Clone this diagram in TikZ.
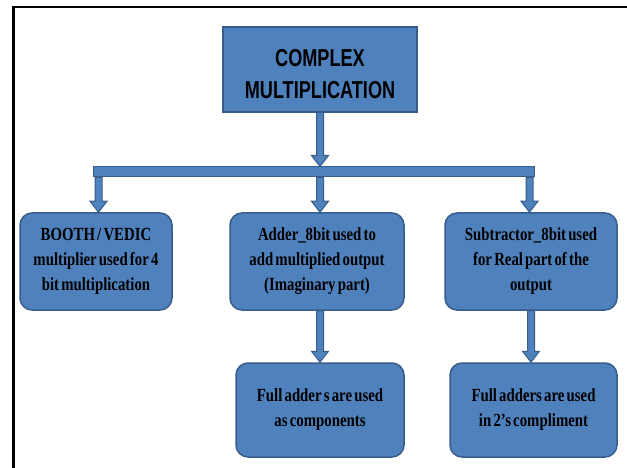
\documentclass[tikz,border=0pt]{standalone}
\usepackage{fontspec}
\newfontfamily\hdfont[FakeStretch=0.74]{Liberation Sans}
\newfontfamily\bxfont[FakeStretch=0.8,WordSpace=0.6]{Liberation Serif}
\usetikzlibrary{calc}
\definecolor{boxblue}{HTML}{4F81BD}
\definecolor{edgeblue}{HTML}{385D8A}
\tikzset{
  topbox/.style={draw=edgeblue, fill=boxblue, line width=1.5pt, minimum width=194pt, minimum height=85pt, align=center, inner sep=0pt, font=\hdfont\bfseries\fontsize{24.5}{32}\selectfont},
  roundbox/.style={draw=edgeblue, fill=boxblue, line width=1.5pt, rounded corners=12pt, align=center, inner sep=0pt, font=\bxfont\bfseries\fontsize{18.5}{25}\selectfont},
  barbox/.style={draw=edgeblue, fill=boxblue, line width=1pt, inner sep=0pt},
  blockarr/.style={draw=edgeblue, fill=boxblue, line width=1pt, line join=miter},
  frameline/.style={line width=2.5pt, black}
}
\newcommand\varrow[2]{\path[blockarr] let \p1=(#1), \p2=(#2) in
  (\x1-3.5pt,\y1) -- (\x1+3.5pt,\y1) -- (\x1+3.5pt,\y2+11pt) -- (\x1+8.5pt,\y2+11pt)
  -- (\x1,\y2) -- (\x1-8.5pt,\y2+11pt) -- (\x1-3.5pt,\y2+11pt) -- cycle;}
\begin{document}
\begin{tikzpicture}[x=1pt,y=-1pt]
\useasboundingbox (0,0) rectangle (627,468);
\fill[white] (0,0) rectangle (627,468);
\draw[frameline] (13.5,468) -- (13.5,7) -- (627,7);

\node[topbox] (top) at (320,69.5) {};
\node[align=center, inner sep=0pt, font=\hdfont\bfseries\fontsize{24.5}{32}\selectfont] (toptext) at (320,74) {COMPLEX\\MULTIPLICATION};
\node[barbox, minimum width=441pt, minimum height=10pt] (bar) at (313.5,172) {};

\node[roundbox, minimum width=152pt, minimum height=97pt] (b1) at (96,261.5)
  {BOOTH / VEDIC\\multiplier used for 4\\bit multiplication};
\node[roundbox, minimum width=174pt, minimum height=97pt] (b2) at (317,261.5)
  {Adder\_8bit used to\\add multiplied output\\(Imaginary part)};
\node[roundbox, minimum width=172pt, minimum height=97pt] (b3) at (531,261.5)
  {Subtractor\_8bit used\\for Real part of the\\output};
\node[roundbox, minimum width=168pt, minimum height=94pt] (lb2) at (320,410)
  {Full adder s are used\\as components};
\node[roundbox, minimum width=167pt, minimum height=94pt] (lb3) at (533.5,410)
  {Full adders are used\\in 2’s compliment};

\coordinate (bL) at ($(bar.south west)+(6,0)$);
\coordinate (bM) at (bar.south -| top.south);
\coordinate (bR) at ($(bar.south east)+(-5,0)$);

\varrow{top.south}{bar.north -| top.south}
\varrow{bL}{b1.north -| bL}
\varrow{bM}{b2.north -| bM}
\varrow{bR}{b3.north -| bR}
\varrow{b2.south -| lb2.north}{lb2.north}
\varrow{b3.south}{lb3.north -| b3.south}

\node[barbox, minimum width=441pt, minimum height=10pt] at (bar) {};
\end{tikzpicture}
\end{document}
